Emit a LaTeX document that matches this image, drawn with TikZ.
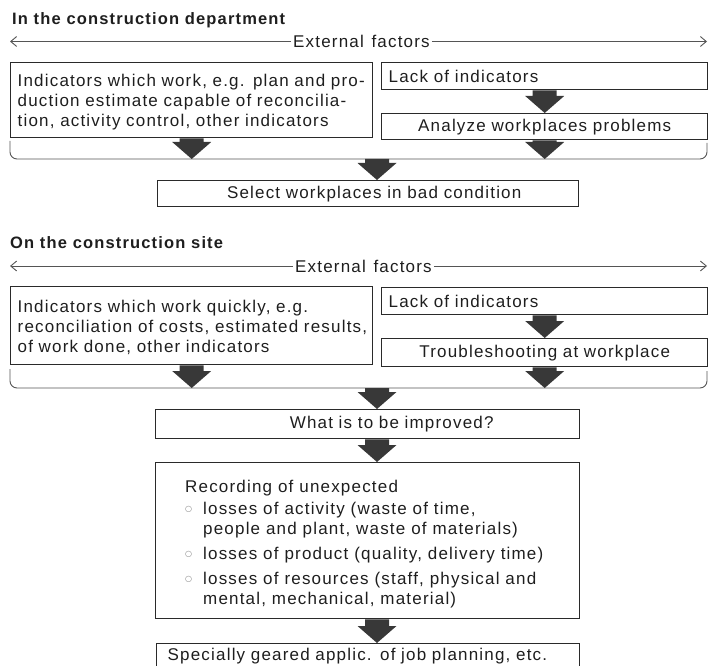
\documentclass[tikz,border=0pt]{standalone}
\usepackage{fontspec}
\setmainfont{Liberation Sans}[LetterSpace=7]
\newfontfamily\symfont{DejaVu Sans}
\usetikzlibrary{arrows.meta,calc}
\definecolor{ink}{HTML}{1E1E1E}
\definecolor{rule}{HTML}{2A2A2A}
\definecolor{thinrule}{HTML}{555555}
\definecolor{blockfill}{HTML}{383838}
% keep each typed line on one line
\newcommand\oneline[1]{\mbox{#1}}
% small open ring used as list marker
\newcommand\ringb{\makebox[18pt][l]{\raisebox{2.5pt}{\color{gray}\symfont\fontsize{8}{8}\selectfont ○}}}

\begin{document}
\begin{tikzpicture}[x=1pt,y=-1pt,
  font=\fontsize{17}{20}\selectfont, text=ink,
  box/.style={draw=rule, line width=1.4pt, anchor=north west, inner xsep=7pt, inner ysep=0pt},
  lbox/.style={box, align=left},
  cbox/.style={box, align=center},
  heading/.style={anchor=base west, inner sep=0pt, font=\fontsize{16.5}{20}\selectfont\bfseries},
  factors/.style={anchor=west, inner xsep=2pt, inner ysep=0pt},
  factorline/.style={draw=thinrule, line width=0.9pt, -{Straight Barb[length=6pt,width=10pt]}},
  brace/.style={draw=thinrule, line width=0.9pt, rounded corners=7pt},
  blk/.style={fill=blockfill, to path={let \p1=(\tikztostart), \p2=(\tikztotarget) in
    (\x1-12pt,\y1) -- (\x1+12pt,\y1) -- (\x1+12pt,\y2+17pt) -- (\x1+19.5pt,\y2+17pt)
    -- (\x1,\y2) -- (\x1-19.5pt,\y2+17pt) -- (\x1-12pt,\y2+17pt) -- cycle}}
]
\useasboundingbox (0,0) rectangle (715,666);

% ---------- construction department ----------
\node[heading] (t1) at (12,25) {In the construction department};
\node[factors] (f1) at (291,41.5) {External\hspace{0.45em}factors};
\coordinate (f1l) at (10,41.5);
\coordinate (f1r) at (707,41.5);
\draw[factorline] (f1.west) -- (f1l);
\draw[factorline] (f1.east) -- (f1r);

\node[lbox, text width=348pt, minimum height=75pt] (a1) at (10,62)
  {\oneline{\rule{0pt}{17pt}Indicators which work, e.g. plan and pro-}\\
   \oneline{duction estimate capable of reconcilia-}\\
   \oneline{tion, activity control, other indicators}};
\node[lbox, text width=312pt, minimum height=27pt] (b1) at (381,62) {Lack of indicators};
\node[cbox, text width=312pt, minimum height=26pt] (c1) at (381,113) {Analyze workplaces problems};
\draw[brace] (10,141) -- (10,159) -- (707,159) -- (707,143);
\coordinate (m1) at (377,159);
\node[cbox, text width=407pt, minimum height=26pt] (d1) at (157,180) {\hspace*{12pt}Select workplaces in bad condition};

\path[blk] (b1.south) to (c1.north);
\path[blk] (a1.south) to (a1.south |- m1);
\path[blk] (c1.south) to (c1.south |- m1);
\path[blk] (m1) to (m1 |- d1.north);

% ---------- construction site ----------
\node[heading] (t2) at (10,248) {On the construction site};
\node[factors] (f2) at (293,266) {External\hspace{0.45em}factors};
\coordinate (f2l) at (10,266);
\coordinate (f2r) at (707,266);
\draw[factorline] (f2.west) -- (f2l);
\draw[factorline] (f2.east) -- (f2r);

\node[lbox, text width=348pt, minimum height=78pt] (a2) at (10,286)
  {\oneline{\rule{0pt}{16pt}Indicators which work quickly, e.g.}\\
   \oneline{reconciliation of costs, estimated results,}\\
   \oneline{of work done, other indicators}};
\node[lbox, text width=312pt, minimum height=27pt] (b2) at (381,287) {Lack of indicators};
\node[cbox, text width=312pt, minimum height=28pt] (c2) at (381,338) {Troubleshooting at workplace};
\draw[brace] (10,369) -- (10,388) -- (707,388) -- (707,371);
\coordinate (m2) at (377,388);
\node[cbox, text width=410pt, minimum height=29pt] (d2) at (155,409) {\hspace*{48pt}What is to be improved?};
\node[box, minimum width=424pt, minimum height=156pt] (e2) at (155,462) {};
\node[anchor=west, align=left, inner sep=0pt] (rec) at (185,544)
  {Recording of unexpected\\[2pt]
   \ringb losses of activity (waste of time,\\
   \hspace*{18pt}people and plant, waste of materials)\\[5pt]
   \ringb losses of product (quality, delivery time)\\[5pt]
   \ringb losses of resources (staff, physical and\\
   \hspace*{18pt}mental, mechanical, material)};
\node[lbox, inner xsep=11pt, text width=401pt, minimum height=24pt] (g2) at (156,643)
  {Specially geared applic. of job planning, etc.};

\path[blk] (b2.south) to (c2.north);
\path[blk] (a2.south) to (a2.south |- m2);
\path[blk] (c2.south) to (c2.south |- m2);
\path[blk] (m2) to (m2 |- d2.north);
\path[blk] (m2 |- d2.south) to (m2 |- e2.north);
\path[blk] (m2 |- e2.south) to (m2 |- g2.north);
\end{tikzpicture}
\end{document}
